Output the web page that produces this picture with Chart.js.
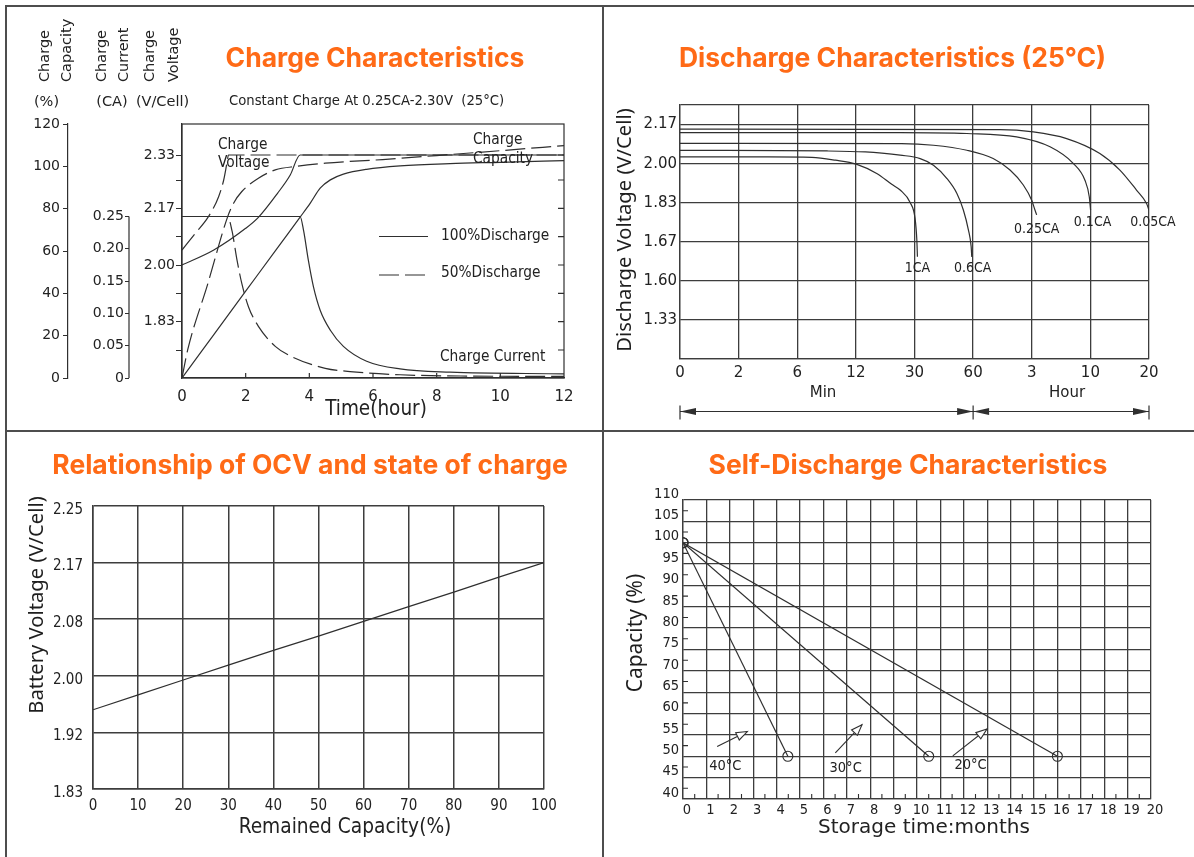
<!DOCTYPE html>
<html>
<head>
<meta charset="utf-8">
<title>Battery characteristics</title>
<script src="https://cdn.jsdelivr.net/npm/chart.js@4.4.1/dist/chart.umd.min.js"></script>
<style>
  html, body { margin: 0; padding: 0; background: #fff; }
  #sheet { position: relative; width: 1194px; height: 857px; overflow: hidden; background: #fff; }
  #sheet canvas { position: absolute; }
  .rule { position: absolute; background: #4d4d4d; }
</style>
</head>
<body>
<div id="sheet">
  <canvas id="chargeChart" width="603" height="431" style="left:0;top:0"></canvas>
  <canvas id="dischargeChart" width="591" height="431" style="left:603px;top:0"></canvas>
  <canvas id="ocvChart" width="603" height="426" style="left:0;top:431px"></canvas>
  <canvas id="selfChart" width="591" height="426" style="left:603px;top:431px"></canvas>
  <div class="rule" style="left:5px;top:5px;width:1189px;height:2px"></div>
  <div class="rule" style="left:5px;top:5px;width:2px;height:852px"></div>
  <div class="rule" style="left:602px;top:5px;width:2px;height:852px"></div>
  <div class="rule" style="left:5px;top:430px;width:1189px;height:2px"></div>
</div>
<script>
// ---- charge characteristics (x in hours) ----
const hourTicks = [0, 2, 4, 6, 8, 10, 12];
const chargeVoltTicks = [1.745, 1.83, 1.915, 2.00, 2.085, 2.17, 2.255, 2.33];
const chargeVoltLabels = ['', '1.83', '', '2.00', '', '2.17', '', '2.33'];
const currentTicks = [0, 0.05, 0.10, 0.15, 0.20, 0.25];
const currentLabels = ['0', '0.05', '0.10', '0.15', '0.20', '0.25'];
const capacityTicks = [0, 20, 40, 60, 80, 100, 120];

const volt100Hours = [0, 1, 2, 2.4, 3, 3.4, 3.71, 6, 12];
const volt100 = [2.00, 2.045, 2.11, 2.143, 2.215, 2.27, 2.33, 2.33, 2.33];
const volt50Hours = [0, 0.42, 0.83, 1.15, 1.31, 1.41, 1.46, 6, 12];
const volt50 = [2.045, 2.095, 2.145, 2.205, 2.255, 2.305, 2.33, 2.33, 2.33];
const cap100Hours = [0, 1, 2, 3, 3.71, 4.03, 4.34, 4.66, 5.07, 5.8, 6.85, 8.42, 10, 12];
const cap100 = [0, 20.5, 41, 61.5, 76, 82.6, 89.7, 93.6, 96.3, 98.6, 100.2, 101.3, 101.9, 102.7];
const cap50Hours = [0, 0.18, 0.8, 1.43, 1.62, 1.88, 2.4, 2.93, 3.6, 4.5, 6.3, 8, 10, 12];
const cap50 = [0, 13.4, 44, 76, 82.6, 88.1, 94.4, 98.3, 100, 101.5, 103.2, 105.1, 107.4, 109.8];
const cur100Hours = [0, 2, 3.71, 3.82, 3.97, 4.13, 4.34, 4.66, 5.07, 5.8, 6.85, 8.42, 12];
const cur100 = [0.25, 0.25, 0.25, 0.228, 0.182, 0.141, 0.105, 0.074, 0.049, 0.026, 0.014, 0.009, 0.0065];
const cur50Hours = [0, 1.43, 1.57, 1.73, 1.88, 2.09, 2.4, 2.93, 3.45, 4.5, 5.28, 6.85, 8.94, 12];
const cur50 = [0.25, 0.25, 0.228, 0.182, 0.146, 0.110, 0.080, 0.049, 0.033, 0.015, 0.010, 0.005, 0.003, 0.0025];

// ---- discharge characteristics (x in minutes, y in volts) ----
const dischargeTimeStops = [0, 2, 6, 12, 30, 60, 180, 600, 1200];
const dischargeTimeLabels = ['0', '2', '6', '12', '30', '60', '3', '10', '20'];
const dischargeVoltStops = [1.33, 1.60, 1.67, 1.83, 2.00, 2.17];
const dischargeVoltLabels = ['1.33', '1.60', '1.67', '1.83', '2.00', '2.17'];
const rateNames = ['1CA', '0.6CA', '0.25CA', '0.1CA', '0.05CA'];
const minutes1CA = [0, 4, 7.5, 9.9, 12.1, 18.4, 23, 25.6, 28.7, 30.3, 31.2, 31.5];
const volts1CA = [2.029, 2.029, 2.027, 2.015, 1.998, 1.957, 1.91, 1.885, 1.83, 1.765, 1.677, 1.643];
const minutes06CA = [0, 9.1, 14.9, 20, 25.6, 32.9, 39.7, 46.5, 51.7, 55.0, 57.6, 59.0, 59.3];
const volts06CA = [2.058, 2.055, 2.051, 2.046, 2.037, 2.022, 1.993, 1.936, 1.870, 1.800, 1.718, 1.661, 1.643];
const minutes025CA = [0, 26, 39.7, 56.8, 101, 135.5, 162.7, 179.9, 203, 215];
const volts025CA = [2.088, 2.087, 2.080, 2.058, 2.022, 1.972, 1.907, 1.841, 1.800, 1.780];
const minutes01CA = [0, 25.6, 56.8, 149, 311, 477, 561, 592, 602];
const volts01CA = [2.135, 2.135, 2.131, 2.116, 2.073, 2.001, 1.928, 1.856, 1.800];
const minutes005CA = [0, 115, 191, 430, 697, 902, 1072, 1175, 1200];
const volts005CA = [2.15, 2.148, 2.138, 2.109, 2.044, 1.972, 1.885, 1.827, 1.800];

// ---- OCV vs state of charge ----
const socPercent = [0, 10, 20, 30, 40, 50, 60, 70, 80, 90, 100];
const ocvVolts = [1.952, 1.973, 1.994, 2.015, 2.036, 2.056, 2.077, 2.100, 2.123, 2.147, 2.170];
const ocvVoltStops = [1.83, 1.92, 2.00, 2.08, 2.17, 2.25];
const ocvVoltLabels = ['1.83', '1.92', '2.00', '2.08', '2.17', '2.25'];

// ---- self discharge ----
const storageTemps = ['40°C', '30°C', '20°C'];
const storageStartMonth = 0;
const storageStartCapacity = 100;
const storageEndMonths = [4.48, 10.5, 16.0];
const storageEndCapacity = [50, 50, 50];

// ---- styling ----
const INK = '#2f2f2f';
const GRID = '#3d3d3d';
const ORANGE = '#ff6a16';
const DV = "'DejaVu Sans', Verdana, sans-serif";
const DVC = "'DejaVu Sans Condensed', 'Liberation Sans Narrow', 'DejaVu Sans', sans-serif";
const NOTO = "'Noto Sans', 'Open Sans', sans-serif";
const TITLE = "bold 26.5px Inter, 'Noto Sans', sans-serif";

// position of a value between uneven labelled stops (stop i sits on grid line i)
function segment(stops, v) {
  let i = 0;
  while (i < stops.length - 2 && v > stops[i + 1]) i++;
  return i + (v - stops[i]) / (stops[i + 1] - stops[i]);
}

function put(ctx, str, x, y, font, align, rotate, color) {
  ctx.save();
  ctx.font = font;
  ctx.fillStyle = color || '#222';
  ctx.textAlign = align || 'left';
  ctx.textBaseline = 'middle';
  ctx.translate(x, y);
  if (rotate) ctx.rotate(-Math.PI / 2);
  ctx.fillText(str, 0, 0);
  ctx.restore();
}

const fixedTicks = list => scale => { scale.ticks = list.map(v => ({ value: v })); };
const baseOptions = {
  responsive: false,
  animation: false,
  devicePixelRatio: 1,
  plugins: { legend: { display: false }, tooltip: { enabled: false } }
};

// ================= chart 1: charge characteristics =================
const chargeSeries = [
  { hours: volt100Hours, values: volt100, axis: 'yV', dashed: false },
  { hours: volt50Hours, values: volt50, axis: 'yV', dashed: true },
  { hours: cap100Hours, values: cap100, axis: 'yC', dashed: false },
  { hours: cap50Hours, values: cap50, axis: 'yC', dashed: true },
  { hours: cur100Hours, values: cur100, axis: 'yI', dashed: false },
  { hours: cur50Hours, values: cur50, axis: 'yI', dashed: true }
];

const chargeDecor = {
  id: 'chargeDecor',
  afterDatasetsDraw(chart) {
    const { ctx, chartArea: a, scales } = chart;
    ctx.save();
    ctx.strokeStyle = INK;
    ctx.lineWidth = 1.2;
    ctx.strokeRect(a.left, a.top, a.right - a.left, a.bottom - a.top);
    ctx.beginPath();
    chargeVoltTicks.forEach(v => {
      const y = scales.yV.getPixelForValue(v);
      ctx.moveTo(a.right, y); ctx.lineTo(a.right - 6, y);
    });
    hourTicks.slice(1, -1).forEach(h => {
      const x = scales.x.getPixelForValue(h);
      ctx.moveTo(x, a.bottom); ctx.lineTo(x, a.bottom - 5);
    });
    const xi = scales.yI.right;
    ctx.moveTo(xi, scales.yI.getPixelForValue(0));
    ctx.lineTo(xi, scales.yI.getPixelForValue(0.25));
    ctx.stroke();
    // legend samples
    ctx.beginPath();
    ctx.moveTo(379, 236.5); ctx.lineTo(428, 236.5);
    ctx.stroke();
    ctx.setLineDash([20, 6]);
    ctx.beginPath();
    ctx.moveTo(379, 275); ctx.lineTo(430, 275);
    ctx.stroke();
    ctx.restore();
  },
  afterDraw(chart) {
    const ctx = chart.ctx;
    put(ctx, 'Charge Characteristics', 375, 59, TITLE, 'center', false, ORANGE);
    const head = "14.5px " + DV;
    [['Charge', 45, 'Capacity', 67], ['Charge', 102, 'Current', 124], ['Charge', 150.5, 'Voltage', 174]].forEach(g => {
      put(ctx, g[0], g[1], 82, head, 'left', true);
      put(ctx, g[2], g[3], 82, head, 'left', true);
    });
    put(ctx, '(%)', 46.5, 102, head, 'center');
    put(ctx, '(CA)', 112, 102, head, 'center');
    put(ctx, '(V/Cell)', 162.5, 102, head, 'center');
    put(ctx, 'Constant Charge At 0.25CA-2.30V  (25°C)', 229, 101, "14.7px " + DVC);
    const note = "15.3px " + DVC;
    put(ctx, 'Charge', 218, 145, note);
    put(ctx, 'Voltage', 218, 163, note);
    put(ctx, 'Charge', 473, 140, note);
    put(ctx, 'Capacity', 473, 159, note);
    put(ctx, '100%Discharge', 441, 236, note);
    put(ctx, '50%Discharge', 441, 273, note);
    put(ctx, 'Charge Current', 440, 357, note);
    put(ctx, 'Time(hour)', 376, 410, "20.5px " + DVC, 'center');
  }
};

const leftAxis = (weight, width, min, max, ticks, labels, tickLength, padding, border) => ({
  type: 'linear', position: 'left', weight, min, max,
  afterBuildTicks: fixedTicks(ticks),
  afterFit: s => { s.width = width; },
  ticks: {
    autoSkip: false, padding, color: '#222',
    font: { family: DV, size: 14 },
    callback: (v, i) => labels[i]
  },
  grid: { drawOnChartArea: false, drawTicks: true, tickLength, color: INK, lineWidth: 1 },
  border: { display: border, color: INK, width: 1.2 }
});

new Chart(document.getElementById('chargeChart'), {
  type: 'scatter',
  data: {
    datasets: chargeSeries.map(c => ({
      data: c.hours.map((h, i) => ({ x: h, y: c.values[i] })),
      yAxisID: c.axis,
      showLine: true,
      borderColor: INK,
      borderWidth: 1.2,
      borderDash: c.dashed ? [20, 6] : [],
      pointRadius: 0,
      cubicInterpolationMode: 'monotone'
    }))
  },
  options: {
    ...baseOptions,
    layout: { padding: { left: 20, right: 39, top: 124, bottom: 0 } },
    scales: {
      x: {
        type: 'linear', min: 0, max: 12,
        afterBuildTicks: fixedTicks(hourTicks),
        afterFit: s => { s.height = 53; },
        ticks: { autoSkip: false, maxRotation: 0, padding: 2, color: '#222', font: { family: DV, size: 15 } },
        grid: { display: false },
        border: { display: true, color: INK, width: 1.2 }
      },
      yV: leftAxis(0, 53, 1.661, 2.423, chargeVoltTicks, chargeVoltLabels, 6, 1, true),
      yI: leftAxis(1, 61, 0, 0.3932, currentTicks, currentLabels, 4, 1, false),
      yC: leftAxis(2, 48, 0, 120, capacityTicks, capacityTicks.map(String), 5, 3, true)
    }
  },
  plugins: [chargeDecor]
});

// ================= chart 2: discharge characteristics =================
const rateSeries = [
  [minutes1CA, volts1CA, 0, 12],
  [minutes06CA, volts06CA, 1, 12],
  [minutes025CA, volts025CA, 0, 14],
  [minutes01CA, volts01CA, 2, 12],
  [minutes005CA, volts005CA, 4, 12]
];
const minuteToGrid = m => segment(dischargeTimeStops, m);
const voltToGrid = v => 1 + segment(dischargeVoltStops, v);

const dischargeDecor = {
  id: 'dischargeDecor',
  afterDraw(chart) {
    const { ctx, scales } = chart;
    put(ctx, 'Discharge Characteristics (25°C)', 289.5, 59, TITLE, 'center', false, ORANGE);
    put(ctx, 'Discharge Voltage (V/Cell)', 22, 230, "20.2px " + NOTO, 'center', true, '#1e1e1e');
    const lab = "14px " + DVC;
    rateSeries.forEach((r, i) => {
      const pts = chart.getDatasetMeta(i).data;
      const end = pts[pts.length - 1];
      put(ctx, rateNames[i], end.x + r[2], end.y + r[3], lab, 'center');
    });
    put(ctx, 'Min', 220, 393, "15px " + DV, 'center');
    put(ctx, 'Hour', 464, 393, "15px " + DV, 'center');
    // Min / Hour dimension arrows
    const y0 = 411.5;
    const xs = [0, 5, 8].map(g => scales.x.getPixelForValue(g));
    ctx.save();
    ctx.strokeStyle = INK; ctx.fillStyle = INK; ctx.lineWidth = 1.2;
    ctx.beginPath();
    ctx.moveTo(xs[0], y0); ctx.lineTo(xs[2], y0);
    xs.forEach(x => { ctx.moveTo(x, y0 - 6); ctx.lineTo(x, y0 + 8); });
    ctx.stroke();
    const head = (x, dir) => {
      ctx.beginPath();
      ctx.moveTo(x, y0); ctx.lineTo(x - dir * 16, y0 - 3.5); ctx.lineTo(x - dir * 16, y0 + 3.5);
      ctx.closePath(); ctx.fill();
    };
    head(xs[0], -1); head(xs[1], 1); head(xs[1], -1); head(xs[2], 1);
    ctx.restore();
  }
};

new Chart(document.getElementById('dischargeChart'), {
  type: 'scatter',
  data: {
    datasets: rateSeries.map(r => ({
      data: r[0].map((m, i) => ({ x: minuteToGrid(m), y: voltToGrid(r[1][i]) })),
      showLine: true,
      borderColor: INK,
      borderWidth: 1.2,
      pointRadius: 0,
      cubicInterpolationMode: 'monotone'
    }))
  },
  options: {
    ...baseOptions,
    layout: { padding: { left: 10, right: 45, top: 105, bottom: 0 } },
    scales: {
      x: {
        type: 'linear', min: 0, max: 8,
        afterBuildTicks: fixedTicks(dischargeTimeLabels.map((_, i) => i)),
        afterFit: s => { s.height = 72; },
        ticks: { autoSkip: false, maxRotation: 0, padding: 5, color: '#222', font: { family: DV, size: 15 },
          callback: v => dischargeTimeLabels[v] },
        grid: { color: GRID, lineWidth: 1.3, drawTicks: false },
        border: { color: GRID, width: 1.3 }
      },
      y: {
        type: 'linear', min: 0, max: 6.5,
        afterBuildTicks: fixedTicks([0, 1, 2, 3, 4, 5, 6, 6.5]),
        afterFit: s => { s.width = 67; },
        ticks: { autoSkip: false, padding: 3, color: '#222', font: { family: DV, size: 15 },
          callback: v => (Number.isInteger(v) && v >= 1) ? dischargeVoltLabels[v - 1] : '' },
        grid: { color: GRID, lineWidth: 1.3, drawTicks: false },
        border: { color: GRID, width: 1.3 }
      }
    }
  },
  plugins: [dischargeDecor]
});

// ================= chart 3: OCV vs state of charge =================
const ocvDecor = {
  id: 'ocvDecor',
  afterDraw(chart) {
    const ctx = chart.ctx;
    put(ctx, 'Relationship of OCV and state of charge', 310, 35, TITLE, 'center', false, ORANGE);
    put(ctx, 'Battery Voltage (V/Cell)', 37, 174, "20.2px " + NOTO, 'center', true, '#1e1e1e');
    put(ctx, 'Remained Capacity(%)', 345, 397, "20.7px " + DVC, 'center');
  }
};

new Chart(document.getElementById('ocvChart'), {
  type: 'scatter',
  data: {
    datasets: [{
      data: socPercent.map((p, i) => ({ x: p, y: segment(ocvVoltStops, ocvVolts[i]) })),
      showLine: true,
      borderColor: INK,
      borderWidth: 1.2,
      pointRadius: 0
    }]
  },
  options: {
    ...baseOptions,
    layout: { padding: { left: 10, right: 59, top: 75, bottom: 0 } },
    scales: {
      x: {
        type: 'linear', min: 0, max: 100,
        ticks: { stepSize: 10, autoSkip: false, maxRotation: 0, padding: 8, color: '#222', font: { family: DVC, size: 15 } },
        afterFit: s => { s.height = 68; },
        grid: { color: GRID, lineWidth: 1.5, drawTicks: false },
        border: { color: GRID, width: 1.5 }
      },
      y: {
        type: 'linear', min: 0, max: 5,
        afterBuildTicks: fixedTicks([0, 1, 2, 3, 4, 5]),
        afterFit: s => { s.width = 83; },
        ticks: { autoSkip: false, padding: 10, labelOffset: 4, color: '#222', font: { family: DVC, size: 15 },
          callback: v => ocvVoltLabels[v] },
        grid: { color: GRID, lineWidth: 1.5, drawTicks: false },
        border: { color: GRID, width: 1.5 }
      }
    }
  },
  plugins: [ocvDecor]
});

// ================= chart 4: self discharge =================
const storageArrows = [[1.46, 52.3, 2.75, 55.8], [6.51, 50.8, 7.65, 57.4], [11.53, 50.1, 12.99, 56.4]];
const storageLabelAt = [[1.81, 47.6], [6.95, 47.3], [12.29, 48.0]];

const selfDecor = {
  id: 'selfDecor',
  afterDraw(chart) {
    const { ctx, chartArea: a, scales: { x, y } } = chart;
    put(ctx, 'Self-Discharge Characteristics', 305, 35, TITLE, 'center', false, ORANGE);
    put(ctx, 'Capacity (%)', 33, 202, "20.9px " + NOTO, 'center', true, '#1e1e1e');
    put(ctx, 'Storage time:months', 321, 397, "20px " + DV, 'center');
    ctx.save();
    ctx.strokeStyle = INK; ctx.lineWidth = 1.1;
    ctx.beginPath();
    for (let m = 0.5; m < 20; m += 1) {
      const px = x.getPixelForValue(m);
      ctx.moveTo(px, a.bottom); ctx.lineTo(px, a.bottom - 5);
    }
    for (let v = 42.5; v < 110; v += 5) {
      const py = y.getPixelForValue(v);
      ctx.moveTo(a.left, py); ctx.lineTo(a.left + 5, py);
    }
    ctx.stroke();
    storageArrows.forEach((r, i) => {
      const x0 = x.getPixelForValue(r[0]), y0 = y.getPixelForValue(r[1]);
      const x1 = x.getPixelForValue(r[2]), y1 = y.getPixelForValue(r[3]);
      const ang = Math.atan2(y1 - y0, x1 - x0);
      ctx.beginPath();
      ctx.moveTo(x0, y0); ctx.lineTo(x1, y1);
      ctx.stroke();
      ctx.beginPath();
      ctx.moveTo(x1, y1);
      ctx.lineTo(x1 - 11 * Math.cos(ang) + 4 * Math.sin(ang), y1 - 11 * Math.sin(ang) - 4 * Math.cos(ang));
      ctx.lineTo(x1 - 11 * Math.cos(ang) - 4 * Math.sin(ang), y1 - 11 * Math.sin(ang) + 4 * Math.cos(ang));
      ctx.closePath();
      ctx.fillStyle = '#fff'; ctx.fill(); ctx.stroke();
      const l = storageLabelAt[i];
      put(ctx, storageTemps[i], x.getPixelForValue(l[0]), y.getPixelForValue(l[1]), "14.5px " + DVC, 'center');
    });
    ctx.restore();
  }
};

new Chart(document.getElementById('selfChart'), {
  type: 'scatter',
  data: {
    datasets: storageEndMonths.map((m, i) => ({
      data: [{ x: storageStartMonth, y: storageStartCapacity }, { x: m, y: storageEndCapacity[i] }],
      showLine: true,
      borderColor: INK,
      borderWidth: 1.2,
      pointRadius: 5,
      pointBorderWidth: 1.1,
      pointBorderColor: INK,
      pointBackgroundColor: 'rgba(255,255,255,0)'
    }))
  },
  options: {
    ...baseOptions,
    layout: { padding: { left: 10, right: 43, top: 69, bottom: 0 } },
    scales: {
      x: {
        type: 'linear', min: 0, max: 20,
        ticks: { stepSize: 1, autoSkip: false, maxRotation: 0, padding: 3, labelOffset: 4, color: '#222', font: { family: DVC, size: 14.5 } },
        afterFit: s => { s.height = 58; },
        grid: { color: GRID, lineWidth: 1.3, drawTicks: false },
        border: { color: GRID, width: 1.3 }
      },
      y: {
        type: 'linear', min: 40, max: 110,
        ticks: { stepSize: 5, autoSkip: false, padding: 4, labelOffset: -6, color: '#222', font: { family: DVC, size: 14.5 } },
        afterFit: s => { s.width = 70; },
        grid: { color: GRID, lineWidth: 1.3, drawTicks: false },
        border: { color: GRID, width: 1.3 }
      }
    }
  },
  plugins: [selfDecor]
});
</script>
</body>
</html>
